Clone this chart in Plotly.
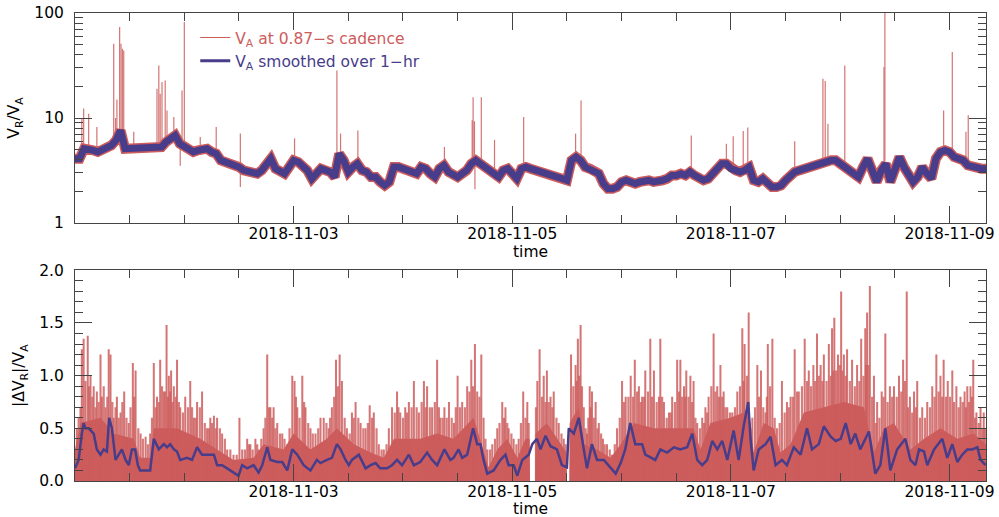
import pandas as pd
import plotly.graph_objects as go

START = pd.Timestamp("2018-11-01 00:00")
RED = "#cd5c5c"
RED_A = "rgba(205,92,92,0.85)"
RED_B = "rgba(205,92,92,0.8)"
BLUE = "#483d8b"
FONT = "DejaVu Sans"

# ---------------- top panel: V_R / V_A ----------------
top_hours = list(range(0, 201))
va_smooth_top = [
    4.10, 4.10, 5.10, 5.10, 4.92, 4.75, 4.92, 5.29, 5.49, 6.13,
    7.63, 5.10, 5.10, 5.29, 5.29, 5.29, 5.22, 5.10, 5.10, 5.29,
    5.91, 6.30, 6.84, 5.70, 5.29, 4.92, 4.75, 4.92, 4.92, 5.10,
    4.75, 4.57, 3.95, 3.81, 3.81, 3.67, 3.41, 3.17, 3.06, 2.95,
    2.95, 3.17, 3.67, 4.10, 3.29, 3.06, 2.95, 3.41, 3.95, 3.81,
    3.54, 3.17, 2.64, 2.95, 3.29, 3.17, 3.06, 2.74, 4.57, 3.95,
    3.06, 3.41, 3.67, 3.17, 3.06, 2.74, 2.74, 2.46, 2.28, 2.46,
    3.41, 3.41, 3.29, 3.29, 3.06, 2.95, 3.41, 3.29, 2.95, 2.74,
    3.29, 3.54, 3.06, 2.95, 2.74, 2.95, 3.17, 3.67, 3.95, 3.67,
    3.41, 3.17, 2.84, 2.74, 3.17, 3.29, 2.95, 2.64, 3.29, 3.41,
    3.29, 3.17, 3.17, 3.06, 2.95, 2.84, 2.74, 2.64, 2.55, 3.95,
    4.25, 3.95, 3.41, 3.29, 3.06, 2.95, 2.37, 2.12, 2.12, 2.20,
    2.46, 2.55, 2.46, 2.37, 2.46, 2.55, 2.55, 2.46, 2.46, 2.55,
    2.64, 2.84, 2.84, 2.95, 2.84, 3.06, 2.84, 2.64, 2.55, 2.64,
    2.95, 3.17, 3.67, 3.67, 3.29, 3.17, 3.06, 3.17, 3.41, 2.55,
    2.46, 2.64, 2.46, 2.20, 2.20, 2.28, 2.55, 2.84, 3.06, 3.17,
    3.29, 3.41, 3.54, 3.67, 3.67, 3.95, 3.95, 3.95, 3.67, 3.41,
    3.29, 2.95, 2.74, 3.41, 4.10, 3.17, 2.46, 3.17, 3.67, 2.46,
    3.29, 4.25, 3.41, 2.84, 2.46, 2.74, 3.41, 2.95, 2.64, 4.10,
    4.75, 4.92, 4.75, 4.25, 4.10, 3.95, 3.54, 3.41, 3.29, 3.29,
    3.29,
]

spike_hours = [1.5, 1.9, 3.0, 4.8, 8.5, 8.9, 9.2, 9.8, 10.1, 10.4, 10.7, 12.9,
               18.0, 18.4, 18.7, 19.1, 19.8, 20.2, 21.7, 23.1, 23.5, 24.0, 27.5,
               31.0, 36.3, 48.2, 57.5, 58.3, 62.1, 81.1, 87.2, 87.4, 87.7, 87.8,
               89.2, 92.1, 98.5, 109.9, 111.1, 135.3, 143.0, 144.5, 146.7, 147.7,
               158.0, 164.2, 164.7, 165.3, 169.0, 177.6, 177.8, 190.7, 192.6,
               195.6, 196.1]
spike_lo = [4.5, 5.0, 5.0, 4.9, 5.5, 6.0, 6.5, 7.5, 7.6, 7.0, 6.5, 5.2,
            5.1, 5.1, 5.2, 5.4, 5.8, 6.0, 6.8, 3.5, 5.5, 5.3, 4.9,
            4.6, 2.2, 3.9, 4.3, 4.5, 3.7, 3.2, 3.8, 3.9, 3.9, 2.1,
            3.5, 2.9, 3.3, 4.2, 3.6, 2.8, 3.4, 3.3, 3.1, 3.3,
            3.1, 3.7, 3.7, 3.8, 3.5, 3.8, 3.9, 4.6, 4.7,
            3.6, 3.5]
spike_hi = [10.0, 12.3, 11.0, 8.2, 51, 10, 15, 73.6, 51, 45.7, 44, 7.4,
            19, 31.7, 17, 22, 22.8, 11.8, 10.2, 5.5, 18.3, 82, 6.6,
            8.2, 7.1, 6.4, 28.4, 7.1, 7.6, 5.3, 9.5, 15.8, 9.3, 3.9,
            15.8, 6.2, 10.2, 7.1, 14.7, 6.8, 5.7, 6.7, 7.5, 8.1,
            6.0, 23.7, 22.5, 8.8, 31.7, 30.6, 120, 11.8, 42.5,
            7.4, 10.6]

# ---------------- bottom panel: |dV_R| / V_A ----------------
dv_smooth_hours = [0.0, 0.8, 1.5, 1.9, 2.3, 3.0, 4.1, 4.8, 5.6, 6.3, 7.0, 7.5, 8.1, 8.9,
                   9.6, 10.3, 11.1, 11.8, 12.5, 13.2, 13.8, 14.3, 16.5, 17.3, 18.4,
                   19.5, 20.2, 20.9, 21.7, 22.4, 23.1, 24.6, 25.7, 26.8, 27.9, 29.0,
                   30.5, 31.2, 32.3, 33.4, 34.8, 35.9, 36.7, 37.8, 39.2, 40.3, 41.1,
                   42.2, 42.9, 44.4, 45.5, 46.6, 47.7, 48.8, 50.2, 51.7, 53.1,
                   53.9, 55.3, 56.4, 57.5, 58.3, 59.4, 60.1, 60.8, 62.3, 63.8, 64.9,
                   66.0, 67.0, 68.5, 69.6, 70.7, 71.8, 73.3, 74.4, 75.8, 77.3, 78.4,
                   79.5, 81.1, 82.4, 83.1, 84.2, 85.0, 86.1, 87.4, 88.3, 89.0, 89.7,
                   90.5, 91.9, 93.4, 94.5, 95.2, 96.3, 97.1, 98.2, 99.6, 100.4, 101.4,
                   102.2, 103.3, 104.4, 105.8, 106.9, 108.0, 108.4, 109.5, 110.6,
                   111.7, 112.4, 113.5, 114.6, 116.1, 117.6, 118.7, 119.8, 120.8,
                   121.9, 123.0, 124.5, 125.2,
                   127.4, 128.5, 130.0, 131.5, 132.9, 134.4, 135.5, 136.6, 137.7,
                   138.8, 139.9, 141.0, 142.1, 143.2, 144.6, 145.7, 146.8, 147.8,
                   148.3, 149.0, 150.1, 151.6, 152.7, 153.8, 155.2, 156.3, 157.8,
                   159.3, 160.7, 161.8, 163.3, 164.4, 165.9, 167.0, 168.1, 169.2,
                   170.3, 171.3, 172.4, 174.3, 175.7, 176.8, 177.9, 179.0, 180.5,
                   182.3, 183.4, 184.5, 185.3, 186.4, 187.1, 188.6, 190.4, 191.5,
                   192.6, 193.7, 194.8, 195.9, 197.0, 198.1, 198.8, 199.9]
dv_smooth = [0.12, 0.20, 0.45, 0.55, 0.50, 0.50, 0.45, 0.30, 0.25, 0.30, 0.28, 0.60, 0.50, 0.20,
             0.25, 0.30, 0.20, 0.15, 0.30, 0.30, 0.15, 0.10, 0.10, 0.40, 0.30,
             0.35, 0.32, 0.35, 0.30, 0.28, 0.20, 0.22, 0.20, 0.32, 0.25, 0.25,
             0.25, 0.15, 0.15, 0.12, 0.08, 0.05, 0.15, 0.12, 0.15, 0.08, 0.15,
             0.32, 0.20, 0.18, 0.18, 0.10, 0.30, 0.25, 0.15, 0.10, 0.20,
             0.17, 0.20, 0.22, 0.35, 0.30, 0.20, 0.15, 0.20, 0.25, 0.12, 0.15,
             0.17, 0.12, 0.12, 0.15, 0.20, 0.15, 0.25, 0.15, 0.18, 0.27, 0.20,
             0.15, 0.30, 0.20, 0.22, 0.30, 0.22, 0.25, 0.50, 0.35, 0.35, 0.20,
             0.07, 0.10, 0.20, 0.25, 0.15, 0.15, 0.05, 0.20, 0.25, 0.35, 0.40,
             0.30, 0.43, 0.33, 0.30, 0.15, 0.13, 0.50, 0.45, 0.60,
             0.30, 0.12, 0.35, 0.20, 0.20, 0.12, 0.07, 0.17, 0.30,
             0.55, 0.35, 0.35, 0.25,
             0.20, 0.30, 0.27, 0.32, 0.30, 0.32, 0.45, 0.20, 0.15,
             0.20, 0.38, 0.30, 0.38, 0.20, 0.48, 0.20, 0.52, 0.75,
             0.40, 0.10, 0.30, 0.35, 0.42, 0.15, 0.20, 0.15, 0.32,
             0.25, 0.50, 0.30, 0.35, 0.52, 0.42, 0.38, 0.40, 0.55,
             0.35, 0.45, 0.30, 0.47, 0.07, 0.15, 0.50, 0.10, 0.30,
             0.40, 0.20, 0.15, 0.30, 0.28, 0.15, 0.30, 0.40, 0.22,
             0.35, 0.18, 0.25, 0.30, 0.30, 0.32, 0.20, 0.15]

dv_core_hours = [0, 1.2, 5.6, 8.5, 12.9, 14.3, 16.5, 17.3, 22.4, 27.5, 31.2, 34.8, 39.2,
                 41.4, 45.8, 48.0, 51.7, 55.3, 57.5, 61.2, 64.9, 67.8, 70.0, 75.8,
                 79.5, 83.1, 87.5, 89.7, 90.8, 92.7, 94.9, 97.1, 98.9, 99.8, 99.9,
                 101.0, 101.1, 103.6, 106.6, 107.9, 108.0, 108.5, 108.6, 110.6, 111.7,
                 114.6, 117.6, 119.8, 122.7, 127.1, 130.7, 135.8, 137.3, 139.5, 143.9,
                 146.8, 147.9, 149.0, 151.2, 153.4, 154.9, 157.1, 160.0, 164.4, 168.8,
                 173.2, 175.4, 177.6, 179.8, 183.4, 186.4, 190.0, 193.7, 197.3, 200.0]
dv_core = [0.3, 0.55, 0.6, 0.45, 0.4, 0.22, 0.22, 0.5, 0.5, 0.4, 0.3, 0.2, 0.22,
           0.35, 0.3, 0.45, 0.3, 0.4, 0.5, 0.35, 0.27, 0.22, 0.4, 0.4,
           0.45, 0.4, 0.6, 0.3, 0.13, 0.3, 0.4, 0.22, 0.4, 0.4, 0.0,
           0.0, 0.45, 0.55, 0.35, 0.27, 0.0, 0.0, 0.55, 0.7, 0.35,
           0.3, 0.22, 0.35, 0.55, 0.5, 0.5, 0.5, 0.3, 0.55, 0.6,
           0.65, 0.7, 0.27, 0.55, 0.5, 0.27, 0.35, 0.65, 0.7, 0.75,
           0.7, 0.27, 0.5, 0.55, 0.3, 0.4, 0.5, 0.4, 0.45, 0.35]

dv_spike_hours = [0.4, 1.2, 1.5, 1.9, 2.3, 2.8, 3.4, 4.1, 4.8, 5.6, 5.9, 6.7, 7.4, 7.8,
                  8.5, 9.2, 10.0, 10.8, 11.8, 12.7, 13.3, 14.4, 15.5, 16.5, 17.3, 18.0,
                  18.7, 19.5, 20.1, 20.6, 21.1, 21.7, 22.4, 23.1, 24.2, 25.3, 26.1,
                  26.8, 27.9, 29.0, 29.7, 30.5, 31.2, 32.3, 33.4, 34.8, 36.1, 36.7,
                  37.8, 38.5, 39.6, 40.3, 41.4, 42.2, 42.9, 43.6, 44.4, 45.5, 46.6,
                  47.7, 48.2, 48.8, 49.9, 50.6, 51.7, 52.8, 53.9,
                  54.6, 55.7, 56.4, 57.3, 58.1, 58.6, 59.7, 60.8, 61.6, 62.7, 63.8,
                  64.7, 65.6, 66.7, 67.8, 68.9, 69.6, 70.7, 71.4, 72.5, 73.3, 74.4,
                  75.5, 76.6, 77.3, 78.4, 79.5, 80.2, 81.1, 82.1, 83.2, 84.0, 85.0,
                  86.1, 87.0, 87.8, 88.3, 89.2, 89.7, 90.5, 91.6, 92.7, 93.8, 94.5,
                  95.2, 96.3, 97.4, 98.4, 99.3, 101.5, 102.0, 102.9, 103.6, 104.4,
                  105.1, 106.2, 107.3, 108.9, 109.9, 110.4, 111.0, 111.7, 112.4,
                  113.0, 113.5, 114.3, 115.0, 115.9, 116.8, 117.9, 119.0, 120.1,
                  120.9, 122.0, 122.9, 123.8, 124.5, 125.2, 126.3,
                  127.1, 128.2, 128.5, 129.3, 130.4, 131.1, 132.2, 132.9, 133.7,
                  134.2, 135.1, 135.8, 136.6, 137.7, 138.4, 139.1, 140.2, 141.0,
                  141.7, 142.4, 143.2, 144.3, 145.4, 146.5, 147.0, 147.9, 148.7,
                  149.8, 150.6, 151.6, 152.1, 153.1, 154.1, 155.2, 156.3, 157.1,
                  158.0, 158.9, 160.2, 161.1, 162.1, 162.9, 163.7, 164.4, 165.5,
                  166.2, 166.7, 167.5, 168.2, 168.8, 169.5, 170.6, 171.7, 172.6,
                  173.5, 173.9, 174.5, 175.4, 176.1, 177.1, 177.9, 178.9, 179.8,
                  180.9, 181.8, 182.6, 183.3, 184.2, 184.9, 186.0, 187.1, 188.2,
                  189.1, 190.0, 190.7, 191.6, 192.6, 193.5, 194.4, 195.3, 195.9,
                  196.6, 197.2, 197.9, 198.8, 199.5]
dv_spike = [0.5, 0.7, 1.25, 1.35, 0.95, 1.38, 1.0, 0.9, 0.85, 1.2, 0.8, 0.7, 1.25, 1.2,
            0.6, 0.8, 0.65, 0.85, 0.55, 1.12, 1.05, 0.45, 0.42, 0.45, 1.12, 0.8,
            1.15, 0.85, 1.48, 1.0, 1.05, 0.9, 1.15, 0.7, 0.8, 0.95, 0.6,
            0.75, 0.85, 0.5, 0.6, 0.62, 0.6, 0.45, 0.3, 0.25, 0.6, 0.3,
            0.4, 0.35, 0.4, 0.3, 0.5, 1.2, 0.7, 0.7, 0.55, 0.45, 0.35,
            1.0, 0.95, 0.7, 1.0, 0.7, 0.5, 0.45, 0.6,
            0.6, 0.5, 0.7, 1.15, 1.2, 0.95, 0.5, 0.65, 0.75, 0.55, 0.5,
            0.72, 0.65, 0.35, 0.3, 0.5, 0.7, 0.85, 0.65, 0.7, 0.75, 0.95,
            0.65, 0.95, 0.9, 0.7, 1.15, 0.6, 0.7, 0.75, 0.55, 1.0, 0.75,
            0.9, 1.15, 1.3, 0.85, 1.2, 0.6, 0.3, 0.35, 0.5, 0.75, 0.7,
            0.5, 0.4, 0.4, 0.85, 0.75, 0.95, 1.25, 1.0, 1.05, 0.8,
            0.85, 0.55, 0.4, 1.2, 1.1, 1.35, 1.48, 0.7, 0.45,
            0.9, 0.85, 0.75, 0.55, 0.4, 0.35, 0.25, 0.5, 0.95,
            0.8, 1.0, 1.15, 0.9, 0.8, 1.05, 1.35,
            1.05, 0.8, 1.35, 0.75, 0.65, 0.8, 1.15, 1.15, 0.9,
            1.05, 1.0, 0.95, 0.55, 0.6, 0.7, 0.8, 1.4, 0.9,
            1.1, 0.85, 0.7, 0.65, 0.85, 1.45, 1.3, 1.6, 0.6,
            1.1, 1.05, 0.65, 1.3, 1.35, 0.5, 0.95, 0.75, 0.8,
            1.25, 0.85, 1.35, 1.05, 1.1, 1.4, 1.1, 1.2, 1.3,
            1.45, 1.55, 1.2, 1.8, 1.2, 1.25, 1.15, 1.1, 1.35,
            1.45, 1.6, 1.85, 1.0, 0.75, 0.85, 1.4, 0.9, 0.9,
            1.0, 1.15, 1.8, 0.8, 0.85, 0.95, 0.7, 0.75, 0.9,
            1.2, 1.0, 1.15, 0.95, 1.05, 0.9, 0.8, 0.85, 0.9,
            0.9, 1.15, 0.65, 0.7, 0.65]

# secondary (lower) spikes between the tall ones
dv_spike2_hours = [0.8, 3.1, 3.8, 4.5, 5.2, 6.3, 7.1, 8.2, 8.9, 9.6, 10.4, 11.3, 12.2, 13.0,
                   13.9, 14.9, 16.0, 16.9, 17.7, 18.4, 19.1, 19.8, 20.4, 20.9, 21.4, 22.1,
                   22.8, 23.7, 24.8, 25.7, 26.5, 27.4, 28.5, 29.4, 30.1, 30.9, 31.8, 32.9,
                   34.1, 35.5, 37.3, 38.2, 39.0, 40.0, 40.9, 41.8, 42.6, 43.3, 44.0, 45.0,
                   46.0, 47.1, 48.5, 49.3, 50.3, 51.2, 52.2, 53.4,
                   55.2, 56.0, 56.9, 57.7, 59.2, 60.3, 61.2, 62.2, 63.3, 64.3, 65.2, 66.2,
                   67.3, 68.4, 70.2, 71.0, 72.0, 72.9, 73.9, 75.0, 76.1, 77.0, 77.9, 79.0,
                   79.9, 80.7, 81.6, 82.7, 83.6, 84.5, 85.6, 86.6, 87.4, 88.8, 90.1, 91.1,
                   92.2, 93.2, 94.2, 94.9, 95.8, 96.9, 97.9, 98.9, 99.6, 101.2, 102.5,
                   103.3, 104.0, 104.8, 105.7, 106.8, 107.7, 109.4, 110.1, 110.7, 111.3,
                   112.1, 112.7, 113.2, 113.9, 114.7, 115.5, 116.3, 117.4, 118.5, 119.6,
                   120.5, 121.5, 122.5, 123.4, 124.2, 124.9, 125.8,
                   126.7, 127.7, 128.9, 129.9, 130.8, 131.7, 132.6, 133.3, 134.0, 134.7,
                   135.5, 136.2, 137.2, 138.1, 138.8, 139.7, 140.6, 141.4, 142.1, 142.8,
                   143.8, 144.9, 146.0, 146.8, 147.5, 148.3, 149.3, 150.2, 151.1, 151.9,
                   152.6, 153.6, 154.7, 155.8, 156.7, 157.6, 158.5, 159.6, 160.7, 161.6,
                   162.5, 163.3, 164.1, 165.0, 165.9, 166.5, 167.1, 167.9, 168.5, 169.2,
                   170.1, 171.2, 172.2, 173.1, 173.7, 174.2, 175.0, 175.8, 176.6, 177.5,
                   178.4, 179.4, 180.4, 181.4, 182.2, 182.9, 183.8, 184.6, 185.5, 186.6,
                   187.7, 188.7, 189.6, 190.4, 191.2, 192.1, 193.0, 194.0, 194.9, 195.6,
                   196.3, 196.9, 197.6, 198.4, 199.2, 199.8]
dv_spike2 = [0.6, 0.9, 0.8, 0.7, 0.75, 0.9, 0.8, 0.75, 0.7, 0.6, 0.75, 0.6, 0.7, 0.8,
             0.5, 0.4, 0.35, 0.6, 0.7, 0.75, 0.9, 0.85, 0.8, 0.85, 0.75, 0.8,
             0.75, 0.65, 0.7, 0.7, 0.6, 0.7, 0.55, 0.5, 0.55, 0.5, 0.5, 0.4,
             0.3, 0.25, 0.3, 0.35, 0.3, 0.35, 0.4, 0.6, 0.7, 0.6, 0.5, 0.45,
             0.4, 0.5, 0.8, 0.6, 0.75, 0.55, 0.45, 0.5,
             0.55, 0.6, 0.8, 0.9, 0.6, 0.45, 0.6, 0.6, 0.5, 0.55, 0.6, 0.5,
             0.3, 0.35, 0.65, 0.7, 0.6, 0.65, 0.7, 0.7, 0.75, 0.7, 0.7, 0.75,
             0.7, 0.6, 0.6, 0.6, 0.7, 0.7, 0.7, 0.85, 0.9, 0.8, 0.4, 0.3,
             0.4, 0.55, 0.6, 0.55, 0.45, 0.35, 0.55, 0.6, 0.55, 0.7, 0.8,
             0.75, 0.75, 0.7, 0.6, 0.45, 0.35, 0.9, 0.95, 1.0, 0.9,
             0.5, 0.6, 0.7, 0.6, 0.5, 0.45, 0.35, 0.3, 0.35, 0.6,
             0.75, 0.8, 0.8, 0.85, 0.75, 0.8, 0.85,
             0.8, 0.75, 0.8, 0.6, 0.65, 0.75, 0.85, 0.8, 0.8, 0.8,
             0.75, 0.6, 0.5, 0.55, 0.65, 0.9, 0.85, 0.8, 0.8, 0.7,
             0.65, 0.7, 0.9, 0.95, 1.0, 0.5, 0.7, 0.8, 0.7, 0.8,
             0.9, 0.6, 0.55, 0.65, 0.7, 0.8, 0.85, 0.9, 0.95, 0.9,
             0.95, 1.0, 0.95, 0.95, 1.0, 1.05, 1.05, 1.1, 1.05, 1.0,
             0.95, 0.9, 0.95, 1.0, 1.1, 1.1, 0.8, 0.55, 0.6, 0.8,
             0.75, 0.8, 0.8, 0.85, 0.95, 0.7, 0.65, 0.7, 0.6, 0.6,
             0.7, 0.8, 0.85, 0.8, 0.8, 0.8, 0.75, 0.7, 0.75, 0.7,
             0.75, 0.8, 0.6, 0.55, 0.5, 0.5]


def to_time(hours):
    return [START + pd.Timedelta(hours=h) for h in hours]


def segments(hours, lo, hi):
    xs, ys = [], []
    for h, a, b in zip(hours, lo, hi):
        t = START + pd.Timedelta(hours=h)
        xs += [t, t, None]
        ys += [a, b, None]
    return xs, ys


fig = go.Figure()

# top panel
top_t = to_time(top_hours)
fig.add_trace(go.Scatter(x=top_t, y=va_smooth_top, mode="lines",
                         line=dict(color=RED, width=10), showlegend=False,
                         xaxis="x", yaxis="y", hoverinfo="skip"))
sx, sy = segments(spike_hours, spike_lo, spike_hi)
fig.add_trace(go.Scatter(x=sx, y=sy, mode="lines", line=dict(color=RED_A, width=1.2),
                         showlegend=False, xaxis="x", yaxis="y", hoverinfo="skip"))
fig.add_trace(go.Scatter(x=top_t, y=va_smooth_top, mode="lines",
                         line=dict(color=BLUE, width=7), showlegend=False,
                         xaxis="x", yaxis="y"))

# bottom panel
fig.add_trace(go.Scatter(x=to_time(dv_core_hours), y=dv_core, mode="lines",
                         fill="tozeroy", fillcolor=RED, line=dict(color=RED, width=0),
                         showlegend=False, xaxis="x2", yaxis="y2", hoverinfo="skip"))
b2x, b2y = segments(dv_spike2_hours, [0] * len(dv_spike2), dv_spike2)
fig.add_trace(go.Scatter(x=b2x, y=b2y, mode="lines", line=dict(color=RED_B, width=2.2),
                         showlegend=False, xaxis="x2", yaxis="y2", hoverinfo="skip"))
bx, by = segments(dv_spike_hours, [0] * len(dv_spike), dv_spike)
fig.add_trace(go.Scatter(x=bx, y=by, mode="lines", line=dict(color=RED_A, width=2.0),
                         showlegend=False, xaxis="x2", yaxis="y2", hoverinfo="skip"))
fig.add_trace(go.Scatter(x=to_time(dv_smooth_hours), y=dv_smooth, mode="lines",
                         line=dict(color=BLUE, width=2.5), showlegend=False,
                         xaxis="x2", yaxis="y2"))

# legend entries
fig.add_trace(go.Scatter(x=[None], y=[None], mode="lines", line=dict(color=RED, width=1),
                         name=f'<span style="color:{RED}">V<sub>A</sub> at 0.87\u2212s cadence</span>',
                         xaxis="x", yaxis="y"))
fig.add_trace(go.Scatter(x=[None], y=[None], mode="lines", line=dict(color=BLUE, width=3),
                         name=f'<span style="color:{BLUE}">V<sub>A</sub> smoothed over 1\u2212hr</span>',
                         xaxis="x", yaxis="y"))

tickfont = dict(family=FONT, size=15.5, color="black")
AX = "#444444"
xcommon = dict(
    type="date", range=["2018-11-01 00:00", "2018-11-09 08:00"],
    tickmode="array",
    tickvals=["2018-11-03", "2018-11-05", "2018-11-07", "2018-11-09"],
    ticktext=["2018-11-03", "2018-11-05", "2018-11-07", "2018-11-09"],
    ticks="inside", ticklen=17, tickwidth=1, tickcolor=AX,
    minor=dict(tickmode="linear", tick0="2018-11-01", dtick=12 * 3600 * 1000,
               ticks="inside", ticklen=8, tickcolor=AX, showgrid=False),
    showline=True, linecolor=AX, linewidth=1, mirror="allticks",
    showgrid=False, zeroline=False, tickfont=tickfont, ticklabelstandoff=-4,
    automargin=False,
)

fig.update_layout(
    width=999, height=517,
    margin=dict(l=75, r=13, t=13, b=36, autoexpand=False),
    paper_bgcolor="white", plot_bgcolor="white",
    font=dict(family=FONT, size=15.5, color="black"),
    showlegend=True,
    legend=dict(x=0.132, y=0.983, xanchor="left", yanchor="top",
                bgcolor="rgba(0,0,0,0)", font=dict(family=FONT, size=15.5),
                tracegroupgap=0),
    xaxis=dict(domain=[0, 1], anchor="y", **xcommon),
    xaxis2=dict(domain=[0, 1], anchor="y2", **xcommon),
    yaxis=dict(
        domain=[0.5513, 1], anchor="x", type="log", range=[0, 2],
        tickmode="array", tickvals=[1, 10, 100], ticktext=["1", "10", "100"],
        ticks="inside", ticklen=17, tickcolor=AX,
        minor=dict(tickmode="array",
                   tickvals=[2, 3, 4, 5, 6, 7, 8, 9, 20, 30, 40, 50, 60, 70, 80, 90],
                   ticks="inside", ticklen=8, tickcolor=AX, showgrid=False),
        showline=True, linecolor=AX, mirror="allticks", showgrid=False,
        zeroline=False, tickfont=tickfont, ticklabelstandoff=7, automargin=False,
        title=dict(text="V<sub>R</sub>/V<sub>A</sub>", font=tickfont, standoff=10),
    ),
    yaxis2=dict(
        domain=[0, 0.4502], anchor="x2", range=[0, 2],
        tickmode="array", tickvals=[0, 0.5, 1.0, 1.5, 2.0],
        ticktext=["0.0", "0.5", "1.0", "1.5", "2.0"],
        ticks="inside", ticklen=17, tickcolor=AX,
        minor=dict(tickmode="linear", tick0=0, dtick=0.1,
                   ticks="inside", ticklen=8, tickcolor=AX, showgrid=False),
        showline=True, linecolor=AX, mirror="allticks", showgrid=False,
        zeroline=False, tickfont=tickfont, ticklabelstandoff=7, automargin=False,
        title=dict(text="|\u0394V<sub>R</sub>|/V<sub>A</sub>", font=tickfont, standoff=10),
    ),
    annotations=[
        dict(text="time", xref="paper", yref="paper", x=0.5, y=0.4893,
             xanchor="center", yanchor="middle", showarrow=False, font=tickfont),
        dict(text="time", xref="paper", yref="paper", x=0.5, y=-0.0598,
             xanchor="center", yanchor="middle", showarrow=False, font=tickfont),
    ],
)

fig.write_html("out.html", config={"displayModeBar": False},
               post_script="document.body.style.margin='0';")
